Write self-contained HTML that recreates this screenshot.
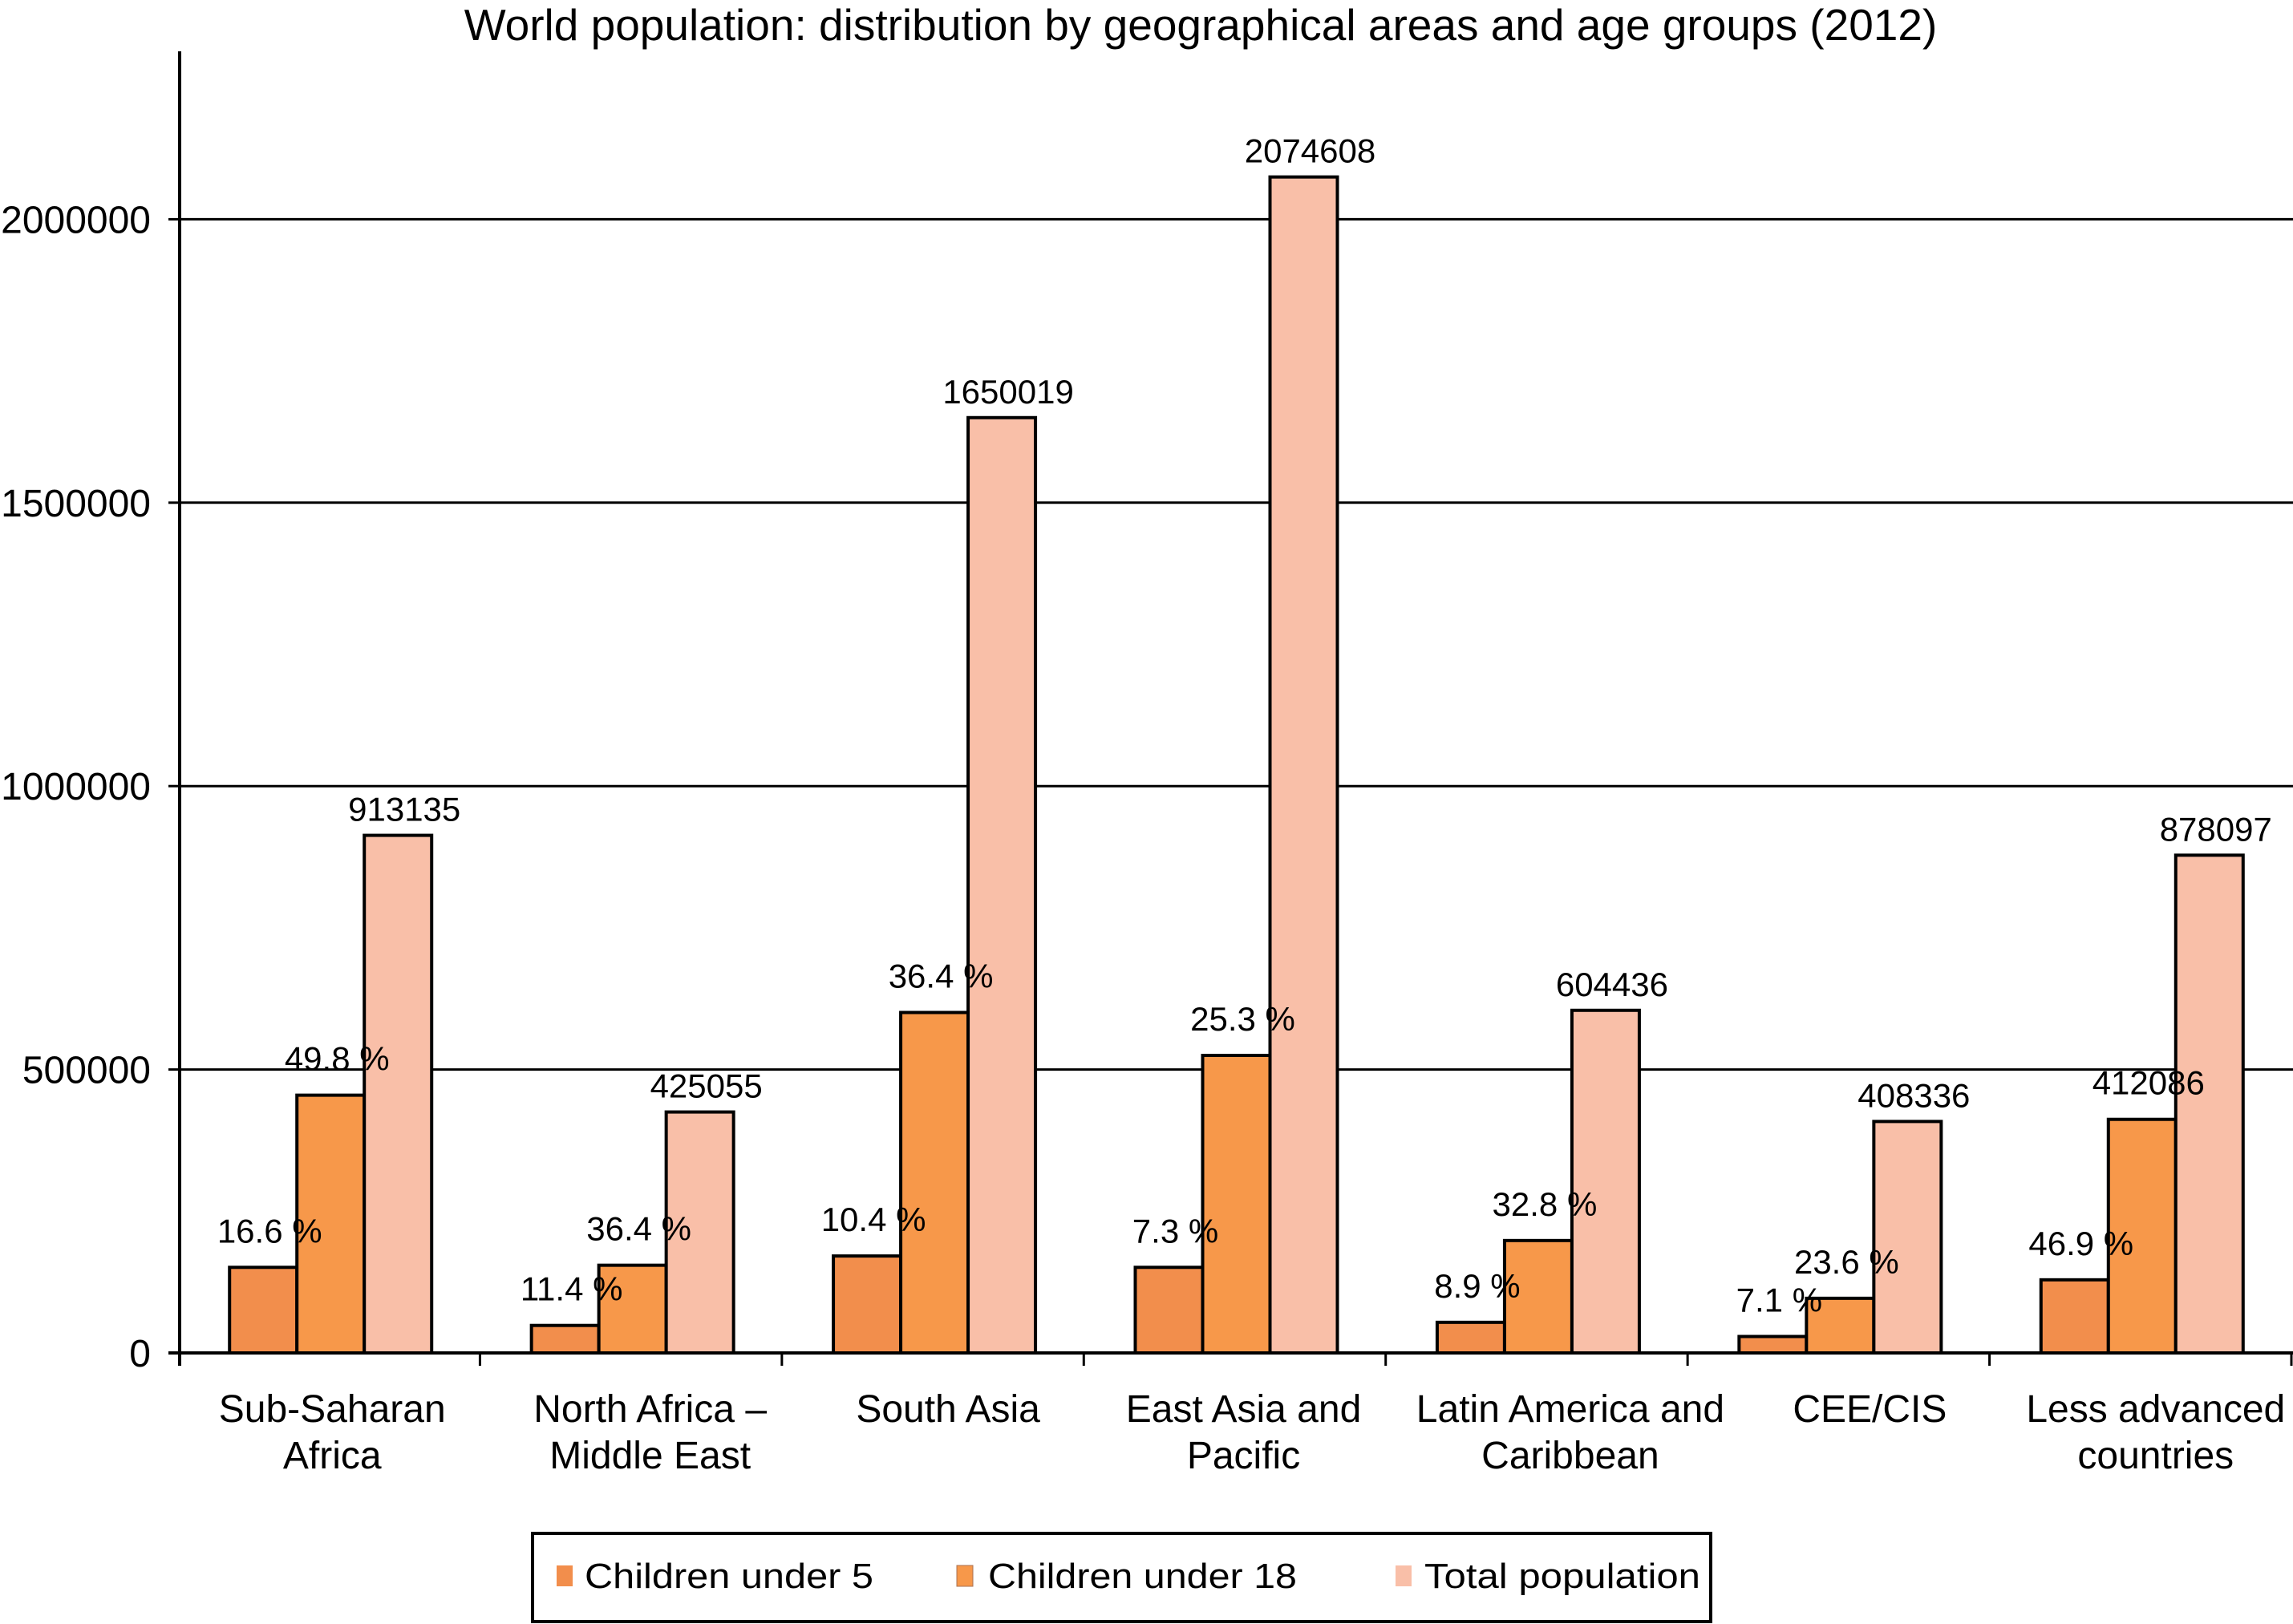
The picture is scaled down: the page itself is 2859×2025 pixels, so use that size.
<!DOCTYPE html>
<html><head><meta charset="utf-8">
<style>
html,body{margin:0;padding:0;background:#fff;}
svg{display:block;font-family:"Liberation Sans",Arial,sans-serif;}
</style></head>
<body>
<svg id="chart" width="2859" height="2025" viewBox="0 0 2859 2025" xmlns="http://www.w3.org/2000/svg">
<text x="1497" y="50" font-size="55" text-anchor="middle">World population: distribution by geographical areas and age groups (2012)</text>
<g id="grid"></g>
<g id="bars"></g>
<g id="axes"></g>
<g id="labels"></g>
<g>
<rect x="664" y="1912" width="1469" height="110" fill="#fff" stroke="#000" stroke-width="4"/>
<rect x="694" y="1952" width="20" height="26" fill="#F28E4C"/>
<text x="729" y="1980" font-size="44" textLength="360" lengthAdjust="spacingAndGlyphs">Children under 5</text>
<rect x="1193" y="1952" width="20" height="26" fill="#F7984A" stroke="#a87050" stroke-width="1"/>
<text x="1232" y="1980" font-size="44" textLength="385" lengthAdjust="spacingAndGlyphs">Children under 18</text>
<rect x="1740" y="1952" width="20" height="26" fill="#F9BFA8"/>
<text x="1776" y="1980" font-size="44" textLength="344" lengthAdjust="spacingAndGlyphs">Total population</text>
</g>
</svg>
<script>
const categories = [["Sub-Saharan","Africa"],["North Africa –","Middle East"],["South Asia"],["East Asia and","Pacific"],["Latin America and","Caribbean"],["CEE/CIS"],["Less advanced","countries"]];
const under5 = [151000, 48500, 171000, 151000, 54000, 29000, 129000];
const under18 = [454700, 154700, 600600, 524900, 198300, 96400, 412086];
const total = [913135, 425055, 1650019, 2074608, 604436, 408336, 878097];
const under5Labels = ["16.6 %","11.4 %","10.4 %","7.3 %","8.9 %","7.1 %","46.9 %"];
const under18Labels = ["49.8 %","36.4 %","36.4 %","25.3 %","32.8 %","23.6 %","412086"];
const totalLabels = ["913135","425055","1650019","2074608","604436","408336","878097"];
const yTicks = [0, 500000, 1000000, 1500000, 2000000];

const NS = "http://www.w3.org/2000/svg";
const X0 = 224, X1 = 2859, Y0 = 1687, YTOP = 64;
const PX_PER = 353.4 / 500000;
const catW = (X1 - X0) / categories.length;
const barW = 84;
const labelShift = [0, 20, 15, 7, 38, 35, 15];
function y(v){ return Y0 - v * PX_PER; }
function catX(i){ return X0 + i * catW; }
function mk(tag, attrs, parent){ const e = document.createElementNS(NS, tag); for (const k in attrs) e.setAttribute(k, attrs[k]); parent.appendChild(e); return e; }

const grid = document.getElementById('grid');
const axes = document.getElementById('axes');
const bars = document.getElementById('bars');
const labels = document.getElementById('labels');

yTicks.forEach(t => {
  if (t > 0) {
    const g = mk('line', {x1: X0, x2: X1, y1: y(t), y2: y(t), stroke: '#000', 'stroke-width': 3}, grid);
    
    
  }
  const tk = mk('line', {x1: X0 - 14, x2: X0, y1: y(t), y2: y(t), stroke: '#000', 'stroke-width': 3}, axes);
  
  
  const tl = mk('text', {x: 188, y: y(t) + 17, 'font-size': 48, 'text-anchor': 'end'}, axes);
  tl.textContent = String(t);
  
  
});
const ya = mk('line', {x1: X0, x2: X0, y1: YTOP, y2: Y0 + 16, stroke: '#000', 'stroke-width': 4}, axes);


const xa = mk('line', {x1: X0 - 14, x2: X1, y1: Y0, y2: Y0, stroke: '#000', 'stroke-width': 4}, axes);


for (let i = 1; i <= categories.length; i++) {
  const t = mk('line', {x1: catX(i) - 2, x2: catX(i) - 2, y1: Y0, y2: Y0 + 16, stroke: '#000', 'stroke-width': 3}, axes);
  
  
}

const series = [
  {vals: under5, fill: '#F28E4C', name: 'under5', labs: under5Labels, off: 46},
  {vals: under18, fill: '#F7984A', name: 'under18', labs: under18Labels, off: 46},
  {vals: total, fill: '#F9BFA8', name: 'total', labs: totalLabels, off: 33}
];
categories.forEach((c, i) => {
  const gx = catX(i) + (catW - 3 * barW) / 2;
  series.forEach((s, j) => {
    const bx = gx + j * barW;
    const r = mk('rect', {x: bx, y: y(s.vals[i]), width: barW, height: Y0 - y(s.vals[i]), fill: s.fill, stroke: '#000', 'stroke-width': 4}, bars);
    
    
    const l = mk('text', {x: bx + barW / 2 + 8, y: y(s.vals[i]) - s.off + 15, 'font-size': 42, 'text-anchor': 'middle'}, labels);
    l.textContent = s.labs[i];
    
    
  });
  c.forEach((line, k) => {
    const t = mk('text', {x: catX(i) + catW / 2 + 2 + labelShift[i], y: 1773 + k * 58, 'font-size': 48, 'text-anchor': 'middle'}, labels);
    t.textContent = line;
    
    
  });
});
</script>
</body></html>
